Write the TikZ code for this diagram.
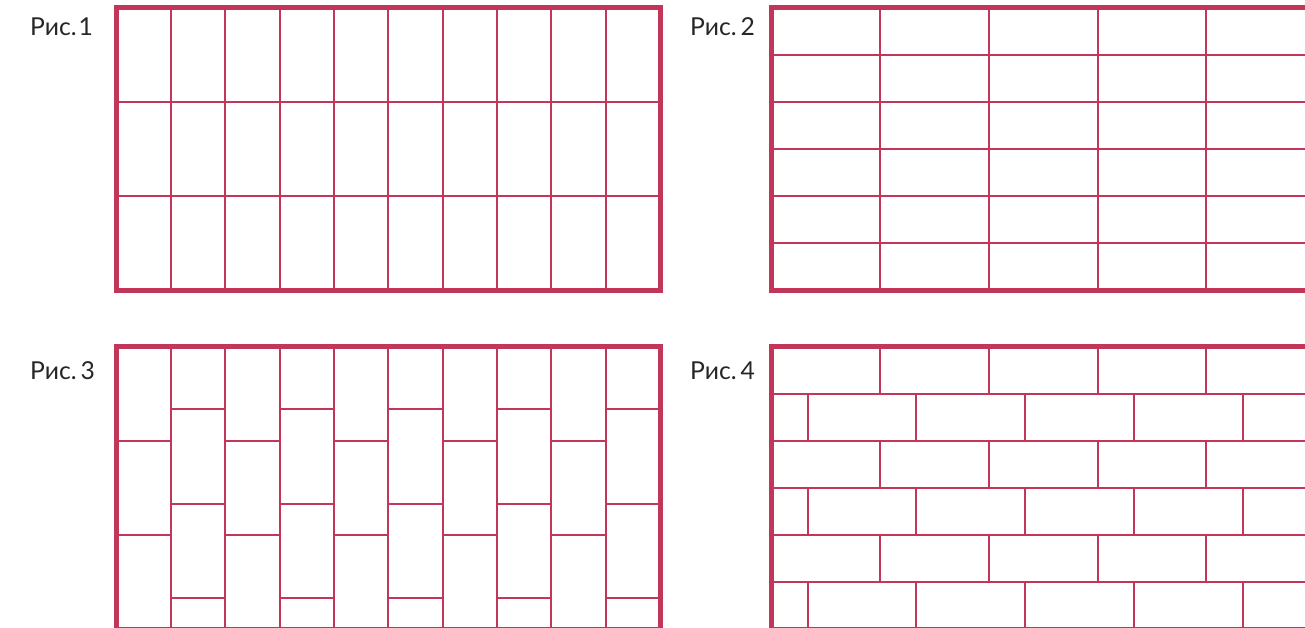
\documentclass[tikz,border=0pt]{standalone}
\usepackage{fontspec}
\setmainfont{Lato}
\definecolor{tile}{HTML}{C13659}
\definecolor{ink}{HTML}{262626}
\begin{document}
\begin{tikzpicture}[x=1pt,y=-1pt,
  gridline/.style={draw=tile,line width=2pt},
  frameline/.style={draw=tile,line width=5pt},
  lbl/.style={anchor=base west,text=ink,inner sep=0pt,font=\fontsize{24.7}{28}\selectfont}]
\useasboundingbox (0,0) rectangle (1305,628);
\clip (0,0) rectangle (1305,628);
% Fig 1
\foreach \i in {1,...,9}
  \draw[gridline] ({116.5+\i*54.35},7.5) -- ({116.5+\i*54.35},290);
\foreach \j in {1,2}
  \draw[gridline] (116.5,{7.5+\j*94.1667}) -- (660,{7.5+\j*94.1667});
\draw[frameline] (116.5,7.5) rectangle (660,290);
% Fig 2
\foreach \i in {1,...,4}
  \draw[gridline] ({771.5+\i*108.7},7.5) -- ({771.5+\i*108.7},290);
\foreach \j in {1,...,5}
  \draw[gridline] (771.5,{7.5+\j*47.083}) -- (1315,{7.5+\j*47.083});
\draw[frameline] (771.5,7.5) rectangle (1315,290);
% Fig 3
\foreach \i in {1,...,9}
  \draw[gridline] ({116.5+\i*54.35},346.7) -- ({116.5+\i*54.35},629.2);
\foreach \c in {0,2,4,6,8}
  \foreach \j in {1,2}
    \draw[gridline] ({116.5+\c*54.35},{346.7+\j*94.1667}) -- ({116.5+(\c+1)*54.35},{346.7+\j*94.1667});
\foreach \c in {1,3,5,7,9}
  \foreach \j in {0,1,2}
    \draw[gridline] ({116.5+\c*54.35},{346.7+62.78+\j*94.1667}) -- ({116.5+(\c+1)*54.35},{346.7+62.78+\j*94.1667});
\draw[frameline] (116.5,346.7) rectangle (660,629.2);
% Fig 4
\foreach \j in {1,...,5}
  \draw[gridline] (771.5,{346.7+\j*47.083}) -- (1315,{346.7+\j*47.083});
\foreach \r in {0,2,4}
  \foreach \k in {1,...,4}
    \draw[gridline] ({771.5+\k*108.7},{346.7+\r*47.083}) -- ({771.5+\k*108.7},{346.7+(\r+1)*47.083});
\foreach \r in {1,3,5}
  \foreach \k in {0,...,4}
    \draw[gridline] ({771.5+36.23+\k*108.7},{346.7+\r*47.083}) -- ({771.5+36.23+\k*108.7},{346.7+(\r+1)*47.083});
\draw[frameline] (771.5,346.7) rectangle (1315,629.2);
% labels
\node[lbl] (l1) at (30,36) {Рис.\hspace{2pt}1};
\node[lbl] (l2) at (690,36) {Рис.\hspace{4pt}2};
\node[lbl] (l3) at (30,379.3) {Рис.\hspace{4pt}3};
\node[lbl] (l4) at (690,379.3) {Рис.\hspace{4pt}4};
\end{tikzpicture}
\end{document}
